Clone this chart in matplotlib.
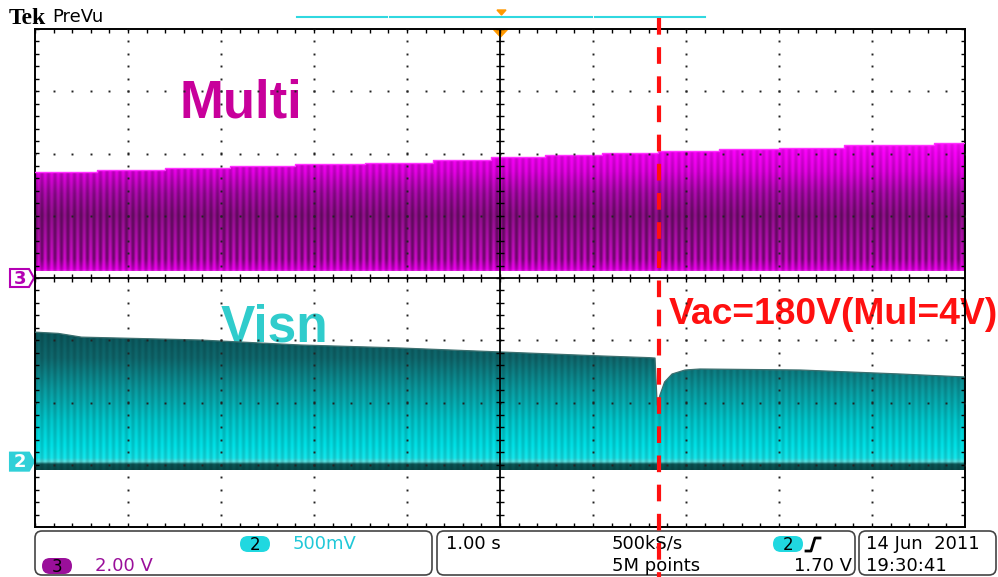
import numpy as np
import matplotlib.pyplot as plt
from matplotlib.patches import Polygon, FancyBboxPatch

# ======================================================
# Values
# ======================================================

# horizontal: 1.00 s/div, 10 div, trigger in the middle
t_min, t_max = -5.0, 5.0

# CH3 "Multi": 2.00 V/div, ground marker at 0 div
ch3_scale, ch3_pos = 2.00, 0.0
multi_t = [-5.0, -4.33, -3.6, -2.9, -2.2, -1.45, -0.72, -0.1, 0.48, 1.1, 1.7, 2.35, 3.0, 3.7, 4.67]
multi_top = [3.41, 3.47, 3.53, 3.60, 3.66, 3.71, 3.79, 3.89, 3.95, 4.02, 4.08, 4.14, 4.19, 4.27, 4.34]
multi_low = 0.22

# CH2 "Visn": 500 mV/div, ground marker at -2.95 div
ch2_scale, ch2_pos = 0.50, -2.95
visn_t = [-5.0, -4.75, -4.5, -3.23, -2.15, -1.08, 0.0, 1.08, 1.61, 1.667, 1.69, 1.72, 1.77, 1.85, 1.99, 2.15, 3.23, 4.3, 5.0]
visn_top = [1.04, 1.03, 1.00, 0.977, 0.937, 0.913, 0.881, 0.849, 0.835, 0.832, 0.455, 0.535, 0.64, 0.704, 0.736, 0.744, 0.736, 0.704, 0.68]
visn_low = -0.07

# red cursor (Vac = 180 V)
marker_t = 1.71

W, H = 998, 577
ax_l, ax_t, ax_w, ax_h = 35, 29, 930, 498   # graticule in pixels


def to_div(v, scale, pos):
    return np.asarray(v) / scale + pos


def div_to_px(d):
    return ax_t + (4 - d) / 8 * ax_h


def profile(yq, keys, cols):
    cols = np.asarray(cols, float)
    return np.stack([np.interp(yq, keys, cols[:, i]) for i in range(3)], -1) / 255


fig = plt.figure(figsize=(W / 100, H / 100), dpi=100)
fig.patch.set_facecolor("white")

# pixel overlay for the screen furniture
ov = fig.add_axes([0, 0, 1, 1])
ov.set_xlim(0, W)
ov.set_ylim(H, 0)
ov.axis("off")
ov.set_zorder(0)

ax = fig.add_axes([ax_l / W, 1 - (ax_t + ax_h) / H, ax_w / W, ax_h / H])
ax.set_zorder(1)
ax.set_facecolor("none")

cols_px = np.arange(ax_w)
stripe = 0.5 + 0.5 * np.cos(2 * np.pi * cols_px / 6.5)

# ---------------- CH3 Multi ----------------
m_top = to_div(multi_top, ch3_scale, ch3_pos)
m_low = to_div(multi_low, ch3_scale, ch3_pos)
edges = multi_t + [t_max]
sx = np.repeat(edges, 2)[1:-1]
sy = np.repeat(m_top, 2)
m_poly = Polygon(np.column_stack([np.r_[sx, t_max, t_min], np.r_[sy, m_low, m_low]]),
                 closed=True, facecolor="none", edgecolor="none")
ax.add_patch(m_poly)
yq = np.linspace(m_low, m_top.max(), 260)
prof = profile(yq, [0.08, 0.14, 0.3, 0.6, 1.0, 1.35, 1.7, 2.0, 2.2],
               [(255, 60, 255), (235, 0, 235), (205, 10, 200), (175, 15, 170), (145, 15, 140),
                (175, 10, 175), (230, 0, 230), (250, 0, 250), (255, 20, 255)])
depth = np.interp(yq, [0.1, 0.3, 1.2, 2.2], [0.2, 0.45, 0.3, 0.1])
img = prof[:, None, :] * (1 - depth[:, None, None] * stripe[None, :, None])
im = ax.imshow(img, extent=(t_min, t_max, m_low, m_top.max()), origin="lower",
               aspect="auto", interpolation="bilinear", zorder=2)
im.set_clip_path(m_poly)
ax.plot(sx, sy, color="#ff30ff", lw=1.0, zorder=3)

# ---------------- CH2 Visn ----------------
v_top = to_div(visn_top, ch2_scale, ch2_pos)
v_low = to_div(visn_low, ch2_scale, ch2_pos)
v_poly = Polygon(np.column_stack([np.r_[visn_t, t_max, t_min], np.r_[v_top, v_low, v_low]]),
                 closed=True, facecolor="none", edgecolor="none")
ax.add_patch(v_poly)
yq = np.linspace(v_low, v_top.max(), 260)
prof = profile(yq, [-3.15, -3.0, -2.96, -2.9, -2.7, -2.3, -1.8, -1.3, -0.8],
               [(10, 70, 70), (10, 85, 85), (90, 225, 225), (20, 230, 235), (0, 225, 230),
                (0, 200, 205), (10, 155, 160), (15, 105, 110), (10, 85, 90)])
depth = np.full_like(yq, 0.14)
img = prof[:, None, :] * (1 - depth[:, None, None] * stripe[None, :, None])
im = ax.imshow(img, extent=(t_min, t_max, v_low, v_top.max()), origin="lower",
               aspect="auto", interpolation="bilinear", zorder=2)
im.set_clip_path(v_poly)
ax.plot(visn_t, v_top, color="#3d7070", lw=0.9, zorder=3)

# ---------------- graticule ----------------
ax.set_xlim(t_min, t_max)
ax.set_ylim(-4, 4)
ax.set_xticks([])
ax.set_yticks([])
for s in ax.spines.values():
    s.set_color("black")
    s.set_linewidth(1.4)

gx = np.arange(-5, 5.001, 0.2)
gy = np.arange(-4, 4.001, 0.2)
for yy in [-3, -2, -1, 1, 2, 3]:
    ax.plot(gx, np.full_like(gx, yy), ls="none", marker="s", ms=1.4, mew=0, color="#222222", zorder=5)
for xx in [-4, -3, -2, -1, 1, 2, 3, 4]:
    ax.plot(np.full_like(gy, xx), gy, ls="none", marker="s", ms=1.4, mew=0, color="#222222", zorder=5)
ax.axhline(0, color="black", lw=1.3, zorder=5)
ax.axvline(0, color="black", lw=1.3, zorder=5)
tx, ty = 0.04, 0.06
ax.vlines(gx, -ty, ty, color="black", lw=1.0, zorder=5)
ax.hlines(gy, -tx, tx, color="black", lw=1.0, zorder=5)
ax.vlines(gx, 4 - ty, 4, color="black", lw=1.0, zorder=5)
ax.vlines(gx, -4, -4 + ty, color="black", lw=1.0, zorder=5)
ax.hlines(gy, -5, -5 + tx, color="black", lw=1.0, zorder=5)
ax.hlines(gy, 5 - tx, 5, color="black", lw=1.0, zorder=5)

# red cursor running over the status bar
ax.plot([marker_t, marker_t], [4 + 11 / ax_h * 8, -4 - 50 / ax_h * 8], color="#ff1010",
        lw=3.0, ls=(0, (4, 3)), dash_capstyle="butt", clip_on=False, zorder=8)

# ---------------- labels ----------------
ov.text(180, 104, "Multi", color="#c8009b", fontsize=38, fontweight="bold",
        family="Liberation Sans", va="center", ha="left")
ov.text(221, 328, "Visn", color="#30cccc", fontsize=37, fontweight="bold",
        family="Liberation Sans", va="center", ha="left")
ov.text(669, 314, "Vac=180V(Mul=4V)", color="#ff1010", fontsize=26.8, fontweight="bold",
        family="Liberation Sans", va="center", ha="left")

# top line
ov.text(9, 18, "Tek", fontsize=17, fontweight="bold", family="Liberation Serif", va="center")
ov.text(52, 17, "PreVu", fontsize=13, family="DejaVu Sans", va="center")
for a, b in [(297, 387), (390, 592), (595, 705)]:
    ov.plot([a, b], [17, 17], color="#30d8e0", lw=1.5)
ov.add_patch(Polygon([(497, 10), (506, 10), (501.5, 15)], color="#ff9900"))
ov.add_patch(Polygon([(493, 29), (508, 29), (500.5, 37)], color="#ff9900", zorder=10))

# channel ground markers
for pos, label, face, edge, tcol in [(ch3_pos, "3", "white", "#b400b4", "#b400b4"),
                                     (ch2_pos, "2", "#30d0d8", "#30d0d8", "white")]:
    yc = div_to_px(pos)
    ov.add_patch(Polygon([(10, yc - 9), (29, yc - 9), (34, yc), (29, yc + 9), (10, yc + 9)],
                         facecolor=face, edgecolor=edge, lw=1.5))
    ov.text(20, yc + 0.5, label, color=tcol, fontsize=13, fontweight="bold",
            family="DejaVu Sans", ha="center", va="center")

# status bar
for x0, x1 in [(35, 432), (437, 855), (859, 996)]:
    ov.add_patch(FancyBboxPatch((x0, 531), x1 - x0, 44, boxstyle="round,pad=0,rounding_size=7",
                                facecolor="white", edgecolor="#444444", lw=1.2))


def badge(x, y, label, face):
    ov.add_patch(FancyBboxPatch((x, y - 8), 30, 16, boxstyle="round,pad=0,rounding_size=8",
                                facecolor=face, edgecolor="none"))
    ov.text(x + 15, y + 0.5, label, fontsize=12, family="DejaVu Sans", ha="center", va="center")


font = dict(fontsize=13, family="DejaVu Sans", va="center")
badge(240, 544, "2", "#20d8e0")
ov.text(293, 544, "500mV", color="#20c8d8", **font)
badge(42, 566, "3", "#9a0f9a")
ov.text(95, 566, "2.00 V", color="#9a0f9a", **font)
ov.text(446, 544, "1.00 s", **font)
ov.text(612, 544, "500kS/s", **font)
ov.text(612, 566, "5M points", **font)
badge(773, 544, "2", "#20d8e0")
ov.plot([806, 811, 815, 820], [551, 551, 538, 538], color="black", lw=2)
ov.text(852, 566, "1.70 V", ha="right", fontsize=13, family="DejaVu Sans", va="center")
ov.text(866, 544, "14 Jun  2011", **font)
ov.text(866, 566, "19:30:41", **font)

fig.savefig("out.png", dpi=100)
